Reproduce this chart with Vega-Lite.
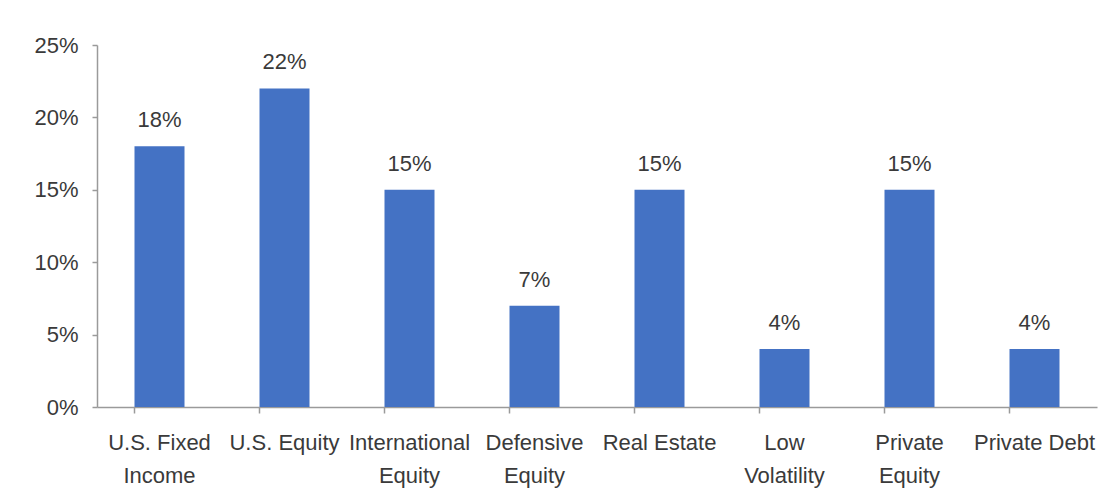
{
  "$schema": "https://vega.github.io/schema/vega-lite/v6.json",
  "width": 1000,
  "height": 362,
  "autosize": {"type": "none"},
  "padding": {"left": 97, "top": 45, "right": 18, "bottom": 94},
  "background": "white",
  "config": {"view": {"stroke": null}, "font": "Liberation Sans"},
  "data": {"values": [
    {"category": "U.S. Fixed Income", "value": 0.18},
    {"category": "U.S. Equity", "value": 0.22},
    {"category": "International Equity", "value": 0.15},
    {"category": "Defensive Equity", "value": 0.07},
    {"category": "Real Estate", "value": 0.15},
    {"category": "Low Volatility", "value": 0.04},
    {"category": "Private Equity", "value": 0.15},
    {"category": "Private Debt", "value": 0.04}
  ]},
  "encoding": {
    "x": {
      "field": "category", "type": "nominal", "sort": null,
      "scale": {"paddingInner": 0.6, "paddingOuter": 0.3},
      "axis": {
        "title": null, "labelAngle": 0, "bandPosition": 0,
        "domainColor": "#9a9a9a", "domainWidth": 1.5,
        "tickColor": "#9a9a9a", "tickWidth": 1.5, "tickSize": 6,
        "labelFontSize": 22, "labelColor": "#3a3a3a", "labelPadding": 19,
        "labelBaseline": "top", "labelLineHeight": 33, "labelLimit": 200,
        "labelExpr": "datum.value == 'U.S. Fixed Income' ? ['U.S. Fixed', 'Income'] : datum.value == 'International Equity' ? ['International', 'Equity'] : datum.value == 'Defensive Equity' ? ['Defensive', 'Equity'] : datum.value == 'Low Volatility' ? ['Low', 'Volatility'] : datum.value == 'Private Equity' ? ['Private', 'Equity'] : datum.value"
      }
    },
    "y": {
      "field": "value", "type": "quantitative",
      "scale": {"domain": [0, 0.25], "nice": false},
      "axis": {
        "title": null, "format": ".0%", "values": [0, 0.05, 0.1, 0.15, 0.2, 0.25],
        "grid": false, "domainColor": "#9a9a9a", "domainWidth": 1.5,
        "tickColor": "#9a9a9a", "tickWidth": 1.5, "tickSize": 5,
        "labelFontSize": 22, "labelColor": "#3a3a3a", "labelPadding": 14
      }
    }
  },
  "layer": [
    {"mark": {"type": "bar", "color": "#4472C4"}},
    {
      "mark": {"type": "text", "fontSize": 22, "color": "#3a3a3a", "baseline": "alphabetic", "dy": -19},
      "encoding": {"text": {"field": "value", "type": "quantitative", "format": ".0%"}}
    }
  ]
}
